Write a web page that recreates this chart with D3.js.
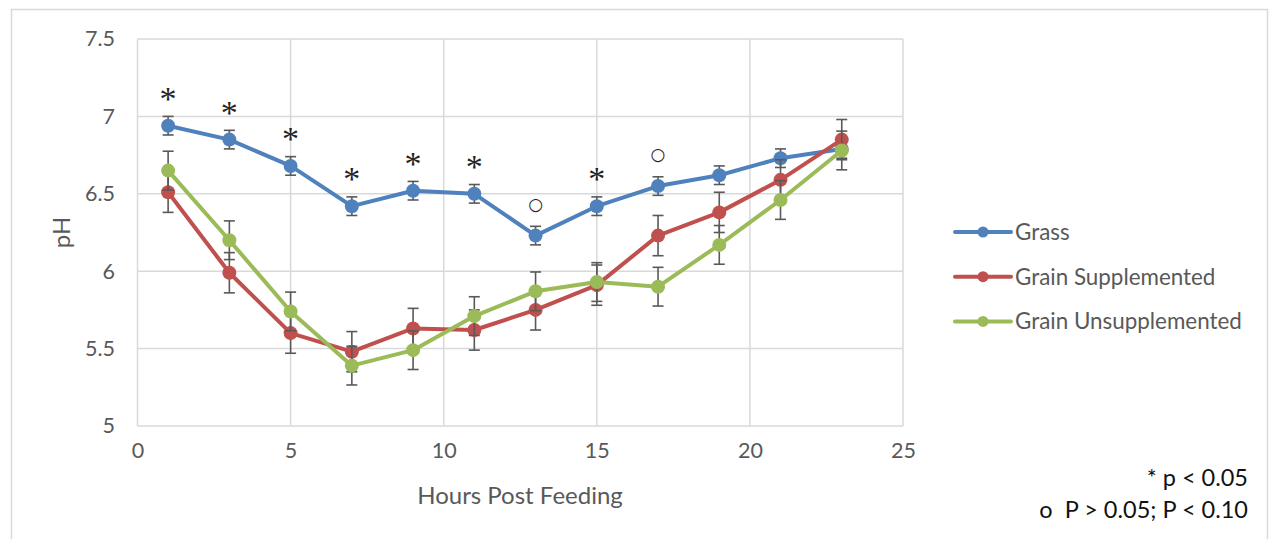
<!DOCTYPE html>
<html>
<head>
<meta charset="utf-8">
<script src="https://cdn.jsdelivr.net/npm/d3@7"></script>
<style>
  html, body { margin: 0; padding: 0; background: #ffffff; }
  svg { display: block; }
  text { font-family: Lato, "Open Sans", sans-serif; }
</style>
</head>
<body>
<svg id="chart" width="1269" height="539"></svg>
<script>
// ---- data ----
const hours = [1, 3, 5, 7, 9, 11, 13, 15, 17, 19, 21, 23];
const grass = [6.94, 6.85, 6.68, 6.42, 6.52, 6.50, 6.23, 6.42, 6.55, 6.62, 6.73, 6.79];
const grainSupplemented = [6.51, 5.99, 5.60, 5.48, 5.63, 5.62, 5.75, 5.91, 6.23, 6.38, 6.59, 6.85];
const grainUnsupplemented = [6.65, 6.20, 5.74, 5.39, 5.49, 5.71, 5.87, 5.93, 5.90, 6.17, 6.46, 6.78];
const grassErr = [0.06, 0.06, 0.06, 0.06, 0.06, 0.06, 0.06, 0.06, 0.06, 0.06, 0.06, 0.06];
const suppErr = [0.13, 0.13, 0.13, 0.13, 0.13, 0.13, 0.13, 0.13, 0.13, 0.13, 0.13, 0.13];
const unsuppErr = [0.125, 0.125, 0.125, 0.125, 0.125, 0.125, 0.125, 0.125, 0.125, 0.125, 0.125, 0.125];
const seriesNames = ["Grass", "Grain Supplemented", "Grain Unsupplemented"];
const seriesColors = ["#4f81bd", "#c0504d", "#9bbb59"];
const sigHours = [1, 3, 5, 7, 9, 11, 13, 15, 17];
const sigMarks = ["*", "*", "*", "*", "*", "*", "○", "*", "○"];
const xTicks = [0, 5, 10, 15, 20, 25];
const yTicks = [5, 5.5, 6, 6.5, 7, 7.5];
const xTitle = "Hours Post Feeding";
const yTitle = "pH";
const footnotes = ["* p < 0.05", "o  P > 0.05; P < 0.10"];

// ---- layout ----
const svg = d3.select("#chart");
const x = d3.scaleLinear().domain([0, 25]).range([137.5, 903]);
const y = d3.scaleLinear().domain([5, 7.5]).range([426, 39]);
const textColor = "#595959";
const gridColor = "#d9d9d9";

// outer chart border
svg.append("path")
  .attr("d", "M11.5,545 V9.5 H1267.5 V545")
  .attr("fill", "none").attr("stroke", gridColor).attr("stroke-width", 1.5);

// gridlines
svg.append("g").selectAll("line").data(yTicks).join("line")
  .attr("x1", x(0)).attr("x2", x(25))
  .attr("y1", d => y(d)).attr("y2", d => y(d))
  .attr("stroke", gridColor).attr("stroke-width", 1.5);
svg.append("g").selectAll("line").data(xTicks).join("line")
  .attr("y1", y(5)).attr("y2", y(7.5))
  .attr("x1", d => x(d)).attr("x2", d => x(d))
  .attr("stroke", gridColor).attr("stroke-width", 1.5);

// axes (labels only)
const yAxis = d3.axisLeft(y).tickValues(yTicks).tickSize(0).tickPadding(0).tickFormat(d3.format("~g"));
const gy = svg.append("g").attr("transform", "translate(115,0)").call(yAxis);
gy.select(".domain").remove();
gy.selectAll("text").attr("fill", textColor).style("font-size", "21.5px").style("font-family", "Lato, sans-serif");

const xAxis = d3.axisBottom(x).tickValues(xTicks).tickSize(0).tickPadding(0).tickFormat(d3.format("~g"));
const gx = svg.append("g").attr("transform", "translate(0,443)").call(xAxis);
gx.select(".domain").remove();
gx.selectAll("text").attr("fill", textColor).style("font-size", "21.5px").style("font-family", "Lato, sans-serif");

// axis titles
svg.append("text").text(xTitle)
  .attr("x", 520).attr("y", 504).attr("text-anchor", "middle")
  .attr("fill", textColor).style("font-size", "24px");
svg.append("text").text(yTitle)
  .attr("transform", `translate(70,${(y(5) + y(7.5)) / 2}) rotate(-90)`)
  .attr("text-anchor", "middle")
  .attr("fill", textColor).style("font-size", "24px");

// series
const series = [
  { name: seriesNames[0], color: seriesColors[0], vals: grass, err: grassErr },
  { name: seriesNames[1], color: seriesColors[1], vals: grainSupplemented, err: suppErr },
  { name: seriesNames[2], color: seriesColors[2], vals: grainUnsupplemented, err: unsuppErr }
];
const line = d3.line().x(d => x(d[0])).y(d => y(d[1]));

series.forEach(s => {
  const pts = hours.map((h, i) => [h, s.vals[i], s.err[i]]);
  const g = svg.append("g");
  g.append("path").datum(pts).attr("d", line)
    .attr("fill", "none").attr("stroke", s.color).attr("stroke-width", 4)
    .attr("stroke-linejoin", "round").attr("stroke-linecap", "round");
  const eb = g.append("g").attr("stroke", "#595959").attr("stroke-width", 1.6);
  eb.selectAll("line.v").data(pts).join("line").attr("class", "v")
    .attr("x1", d => x(d[0])).attr("x2", d => x(d[0]))
    .attr("y1", d => y(d[1] - d[2])).attr("y2", d => y(d[1] + d[2]));
  eb.selectAll("line.t").data(pts).join("line").attr("class", "t")
    .attr("x1", d => x(d[0]) - 5.5).attr("x2", d => x(d[0]) + 5.5)
    .attr("y1", d => y(d[1] + d[2])).attr("y2", d => y(d[1] + d[2]));
  eb.selectAll("line.b").data(pts).join("line").attr("class", "b")
    .attr("x1", d => x(d[0]) - 5.5).attr("x2", d => x(d[0]) + 5.5)
    .attr("y1", d => y(d[1] - d[2])).attr("y2", d => y(d[1] - d[2]));
  g.selectAll("circle").data(pts).join("circle")
    .attr("cx", d => x(d[0])).attr("cy", d => y(d[1])).attr("r", 7)
    .attr("fill", s.color);
});

// significance marks above Grass
svg.append("g").selectAll("text").data(sigHours).join("text")
  .attr("x", d => x(d))
  .attr("y", (d, i) => y(grass[hours.indexOf(d)]) - 33 + (sigMarks[i] === "*" ? 17 : 7))
  .attr("text-anchor", "middle")
  .style("font-family", (d, i) => sigMarks[i] === "*" ? "'Liberation Serif', serif" : "'DejaVu Sans', sans-serif")
  .style("font-size", (d, i) => sigMarks[i] === "*" ? "34px" : "17px")
  .attr("fill", "#222")
  .text((d, i) => sigMarks[i]);

// legend
const legend = svg.append("g").attr("transform", "translate(955,232)");
series.forEach((s, i) => {
  const row = legend.append("g").attr("transform", `translate(0,${i * 44.7})`);
  row.append("line").attr("x1", 0).attr("x2", 56).attr("stroke", s.color)
    .attr("stroke-width", 4).attr("stroke-linecap", "round");
  row.append("circle").attr("cx", 28).attr("r", 5.5).attr("fill", s.color);
  row.append("text").attr("x", 60).attr("dy", "0.35em").text(s.name)
    .attr("fill", textColor).style("font-size", "22.4px");
});

// footnotes
svg.append("g").selectAll("text").data(footnotes).join("text")
  .attr("x", 1248).attr("y", (d, i) => 486 + i * 32)
  .attr("text-anchor", "end").attr("fill", "#111")
  .style("font-size", "23.5px")
  .attr("xml:space", "preserve")
  .style("white-space", "pre")
  .text(d => d);
</script>
</body>
</html>
